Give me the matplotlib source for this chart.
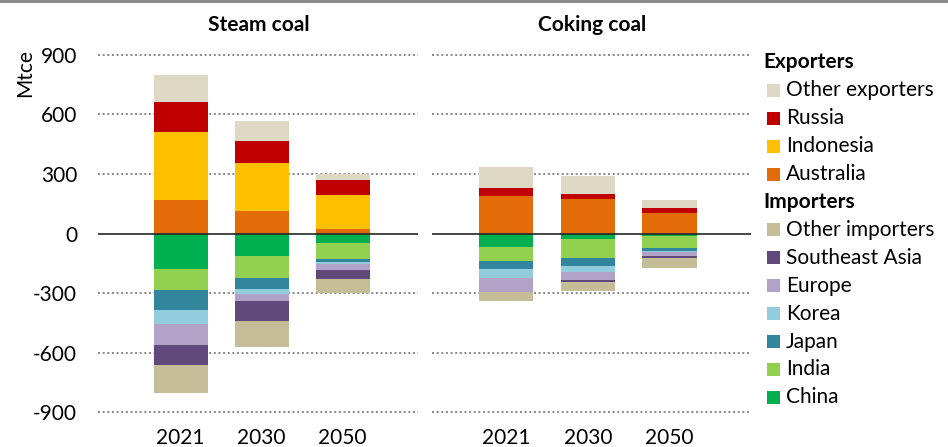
#!/usr/bin/env python3
# -*- coding: utf-8 -*-
import matplotlib
matplotlib.use("Agg")
import matplotlib.pyplot as plt
import numpy as np
from matplotlib.lines import Line2D
from matplotlib.patches import Rectangle

years = ["2021", "2030", "2050"]
panels = ["Steam coal", "Coking coal"]

# Exporters (Mtce, positive), importers (Mtce, negative).
steam_australia = [169, 112, 22]
steam_indonesia = [341, 241, 174]
steam_russia = [154, 115, 73]
steam_other_exp = [134, 99, 29]
steam_china = [-181, -115, -49]
steam_india = [-105, -109, -80]
steam_japan = [-101, -57, -17]
steam_korea = [-68, -24, -8]
steam_europe = [-109, -36, -30]
steam_sea = [-99, -101, -47]
steam_other_imp = [-140, -130, -67]

coking_australia = [191, 172, 105]
coking_indonesia = [0, 0, 0]
coking_russia = [37, 25, 22]
coking_other_exp = [108, 91, 42]
coking_china = [-70, -30, -15]
coking_india = [-67, -94, -59]
coking_japan = [-44, -38, -16]
coking_korea = [-42, -31, -5]
coking_europe = [-70, -41, -17]
coking_sea = [-4, -12, -10]
coking_other_imp = [-44, -45, -52]

exporters = ["Australia", "Indonesia", "Russia", "Other exporters"]
importers = ["China", "India", "Japan", "Korea", "Europe", "Southeast Asia",
             "Other importers"]
colors = {
  "Other exporters": "#DDD9C4",
  "Russia": "#C00000",
  "Indonesia": "#FFC000",
  "Australia": "#E36C09",
  "Other importers": "#C4BD97",
  "Southeast Asia": "#604A7B",
  "Europe": "#B3A2C7",
  "Korea": "#93CDDD",
  "Japan": "#31859C",
  "India": "#92D050",
  "China": "#00B050",
}

FONT = "Lato"
FS = 15
W, H = 948, 447


def __fx(px):
  return px / W


def __fy(py):
  return 1 - py / H


def __draw_panel(ax, exp_series, imp_series, xlim):
  """Draw one stacked bar panel."""
  x = np.arange(len(years))
  base = np.zeros(len(years))
  for name, vals in zip(exporters, exp_series):
    ax.bar(x, vals, 0.667, bottom=base, color=colors[name], linewidth=0)
    base = base + np.array(vals)
  base = np.zeros(len(years))
  for name, vals in zip(importers, imp_series):
    ax.bar(x, vals, 0.667, bottom=base, color=colors[name], linewidth=0)
    base = base + np.array(vals)

  ax.set_xlim(*xlim)
  ax.set_ylim(-910, 910)
  ax.set_yticks([-900, -600, -300, 0, 300, 600, 900])
  ax.set_xticks(x)
  ax.set_xticklabels(years, fontsize=FS, family=FONT)
  for v in [-900, -600, -300, 300, 600, 900]:
    ax.axhline(v, color="#8c8c8c", lw=1.45, ls=(0, (1, 1.3)), zorder=0,
               dash_capstyle="butt")
  ax.axhline(0, color="#262626", lw=1.2, zorder=3)
  for s in ax.spines.values():
    s.set_visible(False)
  ax.tick_params(axis="both", length=0)
  ax.tick_params(axis="x", pad=10)
  ax.tick_params(axis="y", pad=15)


def __cmd():
  fig = plt.figure(figsize=(W / 100, H / 100), dpi=100)
  bottom = 1 - 414 / H
  height = (414 - 53) / H
  ax1 = fig.add_axes([__fx(98), bottom, __fx(418 - 98), height])
  ax2 = fig.add_axes([__fx(432), bottom, __fx(751 - 432), height])

  __draw_panel(ax1,
               [steam_australia, steam_indonesia, steam_russia, steam_other_exp],
               [steam_china, steam_india, steam_japan, steam_korea,
                steam_europe, steam_sea, steam_other_imp],
               (-1.02, 2.93))
  __draw_panel(ax2,
               [coking_australia, coking_indonesia, coking_russia,
                coking_other_exp],
               [coking_china, coking_india, coking_japan, coking_korea,
                coking_europe, coking_sea, coking_other_imp],
               (-0.91, 3.0))
  ax1.set_yticklabels(["-900", "-600", "-300", "0", "300", "600", "900"],
                      fontsize=FS, family=FONT)
  ax2.set_yticklabels([])

  # titles
  fig.text(__fx(259), __fy(25), panels[0], ha="center", va="center",
           fontsize=FS, fontweight="bold", family=FONT)
  fig.text(__fx(592), __fy(25), panels[1], ha="center", va="center",
           fontsize=FS, fontweight="bold", family=FONT)
  fig.text(__fx(25), __fy(73), "Mtce", rotation=90, ha="center", va="center",
           fontsize=FS, family=FONT)

  # legend
  rows = [("Exporters", None)] + [(n, n) for n in exporters[::-1]] + \
         [("Importers", None)] + [(n, n) for n in importers[::-1]]
  y0, step = 62.5, 27.9
  for i, (label, key) in enumerate(rows):
    yc = y0 + i * step
    if key is None:
      fig.text(__fx(763), __fy(yc), label, ha="left", va="center",
               fontsize=FS, fontweight="bold", family=FONT)
    else:
      fig.add_artist(Rectangle((__fx(767), __fy(yc + 6.5)), __fx(13), 13 / H,
                               transform=fig.transFigure, color=colors[key],
                               linewidth=0))
      fig.text(__fx(786), __fy(yc), label, ha="left", va="center",
               fontsize=FS, family=FONT)

  fig.add_artist(Line2D([0, 1], [__fy(1), __fy(1)], color="#8c8c8c", lw=2.2,
                        transform=fig.transFigure))
  fig.savefig("out.png", dpi=100)


if __name__ == '__main__':
  __cmd()
